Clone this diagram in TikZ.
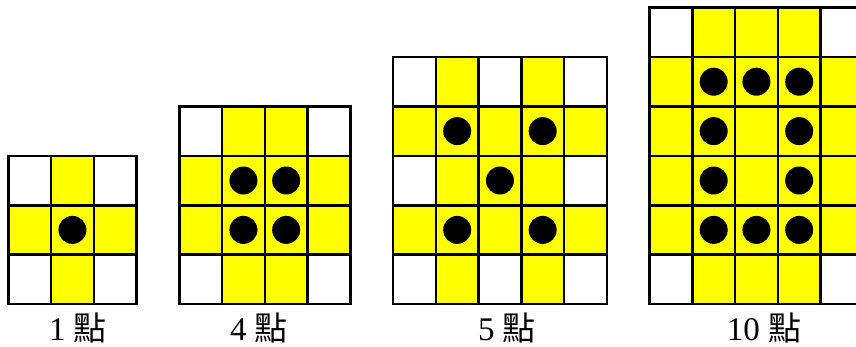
\documentclass[tikz,border=0pt]{standalone}
\usepackage{fontspec}
\setmainfont{Liberation Serif}
\newfontfamily\cjk{Noto Sans CJK TC}
\definecolor{yel}{HTML}{FFFF00}
\def\cw{42.75}
\def\ch{49.4}
\tikzset{
  cellfill/.style={fill=yel},
  gridline/.style={line width=2.6pt, draw=black, line cap=rect},
  dotfill/.style={fill=black},
  lab/.style={anchor=base, inner sep=0pt, font=\fontsize{33}{36}\selectfont}
}
\newcommand{\mygrid}[6]{%
  \begin{scope}[shift={(#1,#2)}]
    \foreach \c/\r in {#5} \fill[cellfill] (\c*\cw,\r*\ch) rectangle ++(\cw,\ch);
    \foreach \i in {0,...,#3} \draw[gridline] (\i*\cw,0) -- (\i*\cw,#4*\ch);
    \foreach \j in {0,...,#4} \draw[gridline] (0,\j*\ch) -- (#3*\cw,\j*\ch);
    \foreach \c/\r in {#6} \fill[dotfill] (\c*\cw+0.5*\cw,\r*\ch+0.5*\ch) circle (14pt);
  \end{scope}}
\begin{document}
\begin{tikzpicture}[x=1pt,y=-1pt]
\useasboundingbox (0,0) rectangle (856,346);
\fill[white] (0,0) rectangle (856,346);
\clip (0,0) rectangle (856,346);
\mygrid{8.3}{155.8}{3}{3}{1/0,0/1,1/1,2/1,1/2}{1/1}
\mygrid{179.3}{106.4}{4}{4}{1/0,2/0,0/1,1/1,2/1,3/1,0/2,1/2,2/2,3/2,1/3,2/3}{1/1,2/1,1/2,2/2}
\mygrid{393.05}{57}{5}{5}{1/0,3/0,0/1,1/1,2/1,3/1,4/1,1/2,2/2,3/2,0/3,1/3,2/3,3/3,4/3,1/4,3/4}{1/1,3/1,2/2,1/3,3/3}
\mygrid{649.55}{7.6}{5}{6}{1/0,2/0,3/0,0/1,1/1,2/1,3/1,4/1,0/2,1/2,2/2,3/2,4/2,0/3,1/3,2/3,3/3,4/3,0/4,1/4,2/4,3/4,4/4,1/5,2/5,3/5}{1/1,2/1,3/1,1/2,3/2,1/3,3/3,1/4,2/4,3/4}
\node[lab] (lab1) at (78,340) {1 {\cjk 點}};
\node[lab] (lab2) at (259,340) {4 {\cjk 點}};
\node[lab] (lab3) at (507,340) {5 {\cjk 點}};
\node[lab] (lab4) at (764,340) {10 {\cjk 點}};
\end{tikzpicture}
\end{document}
